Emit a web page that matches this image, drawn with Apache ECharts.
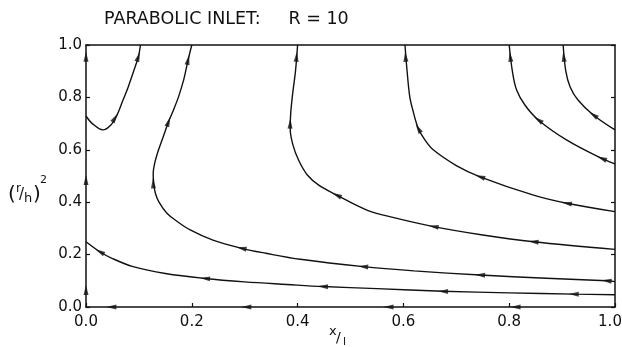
<!DOCTYPE html>
<html><head><meta charset="utf-8">
<script src="https://cdn.jsdelivr.net/npm/echarts@6/dist/echarts.min.js"></script>
<style>html,body{margin:0;padding:0;background:#fff}#c{width:622px;height:347px}</style>
</head><body><div id="c"></div>
<script>
// Tick values
const xTicks = [0.0, 0.2, 0.4, 0.6, 0.8, 1.0];
const yTicks = [0.0, 0.2, 0.4, 0.6, 0.8, 1.0];

// Streamlines, listed in flow direction [x/l, (r/h)^2]
const curve1 = [[0,0.729],[0.012,0.70],[0.032,0.676],[0.047,0.695],[0.058,0.73],[0.07,0.79],[0.08,0.841],[0.09,0.90],[0.099,0.955],[0.103,1.0]];
const curve2 = [[1.0,0.097],[0.984,0.100],[0.87,0.110],[0.745,0.122],[0.62,0.138],[0.524,0.154],[0.405,0.182],[0.34,0.205],[0.294,0.224],[0.24,0.255],[0.197,0.294],[0.17,0.33],[0.153,0.358],[0.138,0.40],[0.131,0.435],[0.128,0.472],[0.127,0.51],[0.13,0.55],[0.137,0.599],[0.146,0.65],[0.156,0.707],[0.166,0.755],[0.175,0.803],[0.185,0.87],[0.193,0.943],[0.2,1.0]];
const curve3 = [[1.0,0.220],[0.846,0.249],[0.75,0.275],[0.657,0.307],[0.58,0.342],[0.531,0.370],[0.474,0.427],[0.44,0.465],[0.418,0.505],[0.402,0.56],[0.391,0.62],[0.386,0.68],[0.387,0.74],[0.391,0.82],[0.396,0.90],[0.40,1.0]];
const curve4 = [[1.0,0.364],[0.909,0.396],[0.846,0.427],[0.745,0.497],[0.70,0.54],[0.657,0.599],[0.64,0.64],[0.628,0.682],[0.618,0.75],[0.612,0.803],[0.607,0.90],[0.603,1.0]];
const curve5 = [[1.0,0.546],[0.975,0.567],[0.909,0.637],[0.855,0.714],[0.83,0.77],[0.814,0.828],[0.806,0.90],[0.80,1.0]];
const curve6 = [[1.0,0.676],[0.959,0.733],[0.93,0.79],[0.915,0.841],[0.907,0.90],[0.902,1.0]];
const curve7 = [[1.0,0.047],[0.922,0.049],[0.80,0.054],[0.675,0.060],[0.55,0.070],[0.448,0.078],[0.38,0.086],[0.30,0.096],[0.225,0.109],[0.15,0.128],[0.089,0.154],[0.05,0.185],[0.026,0.211],[0,0.249]];
const leftWall = [[0,0],[0,1]];
const bottomWall = [[1,0],[0,0]];

// Arrowhead positions on each streamline
const arrows1 = [[0.055,0.722],[0.099,0.955]];
const arrows2 = [[0.984,0.100],[0.745,0.122],[0.524,0.154],[0.294,0.224],[0.127,0.472],[0.156,0.707],[0.193,0.943]];
const arrows3 = [[0.846,0.249],[0.657,0.307],[0.474,0.427],[0.386,0.70],[0.398,0.955]];
const arrows4 = [[0.909,0.396],[0.745,0.497],[0.628,0.682],[0.604,0.955]];
const arrows5 = [[0.975,0.567],[0.855,0.714],[0.802,0.955]];
const arrows6 = [[0.959,0.733],[0.903,0.955]];
const arrows7 = [[0.922,0.049],[0.675,0.060],[0.448,0.078],[0.225,0.109],[0.026,0.211]];
const arrowsLeft = [[0,0.065],[0,0.485],[0,0.955]];
const arrowsBottom = [[0.812,0],[0.572,0],[0.303,0],[0.048,0]];

const curves = [curve1,curve2,curve3,curve4,curve5,curve6,curve7];
const arrowSets = [
  [curve1,arrows1],[curve2,arrows2],[curve3,arrows3],[curve4,arrows4],
  [curve5,arrows5],[curve6,arrows6],[curve7,arrows7],
  [leftWall,arrowsLeft],[bottomWall,arrowsBottom]
];

const chart = echarts.init(document.getElementById('c'), null, {renderer:'canvas'});
const FONT = 'DejaVu Sans';
const lineSeries = curves.map(c => ({
  type:'line', data:c, smooth:0.35, symbol:'none', clip:true,
  lineStyle:{color:'#111', width:1.4}, z:3, silent:true
}));
const xMax = xTicks[xTicks.length-1];

const base = {
  animation:false,
  backgroundColor:'#fff',
  title:{text:'PARABOLIC INLET:     R = 10', left:104, top:10, padding:0,
    textStyle:{fontFamily:FONT, fontSize:17.5, fontWeight:'normal', color:'#111'}},
  grid:{left:86, right:7, top:45, bottom:40, show:false, containLabel:false, outerBoundsMode:'none'},
  xAxis:[
    {type:'value', min:0, max:1, interval:0.2, position:'bottom',
      axisLine:{show:true, lineStyle:{color:'#111', width:1.5}},
      axisTick:{show:true, inside:true, length:4, lineStyle:{color:'#111', width:1.2}},
      axisLabel:{fontFamily:FONT, fontSize:15, color:'#111', margin:8,
        showMinLabel:true, showMaxLabel:true, hideOverlap:false,
        formatter:v=> v===xMax ? '{m|'+v.toFixed(1)+'}' : v.toFixed(1),
        rich:{m:{fontFamily:FONT, fontSize:15, color:'#111', padding:[0,10,0,0]}}},
      splitLine:{show:false}},
    {type:'value', min:0, max:1, interval:0.2, position:'top',
      axisLine:{show:true, onZero:false, lineStyle:{color:'#111', width:1.5}},
      axisTick:{show:false}, axisLabel:{show:false}, splitLine:{show:false}}
  ],
  yAxis:[
    {type:'value', min:0, max:1, interval:0.2, position:'left',
      axisLine:{show:true, lineStyle:{color:'#111', width:1.5}},
      axisTick:{show:true, inside:true, length:4, lineStyle:{color:'#111', width:1.2}},
      axisLabel:{fontFamily:FONT, fontSize:15, color:'#111', margin:4,
        showMinLabel:true, showMaxLabel:true, hideOverlap:false,
        formatter:v=>v.toFixed(1)},
      splitLine:{show:false}},
    {type:'value', min:0, max:1, interval:0.2, position:'right',
      axisLine:{show:true, onZero:false, lineStyle:{color:'#111', width:1.5}},
      axisTick:{show:true, inside:true, length:4, lineStyle:{color:'#111', width:1.2}},
      axisLabel:{show:false}, splitLine:{show:false}}
  ],
  graphic:[
    {type:'text', x:8, y:195, style:{text:'(', fontFamily:FONT, fontSize:20, fill:'#111', verticalAlign:'middle'}},
    {type:'text', x:16, y:189, style:{text:'r', fontFamily:FONT, fontSize:12, fill:'#111', verticalAlign:'middle'}},
    {type:'text', x:19, y:195, style:{text:'/', fontFamily:FONT, fontSize:15, fill:'#111', verticalAlign:'middle'}},
    {type:'text', x:24, y:199, style:{text:'h', fontFamily:FONT, fontSize:13, fill:'#111', verticalAlign:'middle'}},
    {type:'text', x:33, y:195, style:{text:')', fontFamily:FONT, fontSize:20, fill:'#111', verticalAlign:'middle'}},
    {type:'text', x:40, y:180, style:{text:'2', fontFamily:FONT, fontSize:11, fill:'#111', verticalAlign:'middle'}},
    {type:'text', x:329, y:332, style:{text:'x', fontFamily:FONT, fontSize:13, fill:'#111', verticalAlign:'middle'}},
    {type:'text', x:336, y:338, style:{text:'/', fontFamily:FONT, fontSize:14, fill:'#111', verticalAlign:'middle'}},
    {type:'text', x:343, y:342, style:{text:'l', fontFamily:FONT, fontSize:11, fill:'#111', verticalAlign:'middle'}}
  ],
  series: lineSeries
};
chart.setOption(base);

function px(p){ return chart.convertToPixel({gridIndex:0}, p); }
function rotationFor(curve, p){
  const pts = curve.map(px);
  const q = px(p);
  let best = Infinity, dir = [1,0];
  for (let i=0;i<pts.length-1;i++){
    const a=pts[i], b=pts[i+1];
    const vx=b[0]-a[0], vy=b[1]-a[1];
    const L=vx*vx+vy*vy || 1;
    let t=((q[0]-a[0])*vx+(q[1]-a[1])*vy)/L; t=Math.max(0,Math.min(1,t));
    const cx=a[0]+t*vx-q[0], cy=a[1]+t*vy-q[1];
    const d=cx*cx+cy*cy;
    if (d<best){best=d; dir=[vx,vy];}
  }
  return Math.atan2(-dir[0], -dir[1])*180/Math.PI;
}
const arrowData = [];
arrowSets.forEach(([c, arr]) => arr.forEach(p => {
  arrowData.push({value:p, symbolRotate:rotationFor(c,p)});
}));
chart.setOption({series: lineSeries.concat([{
  type:'scatter', data:arrowData, symbol:'triangle', symbolSize:[5,10],
  itemStyle:{color:'#111'}, z:5, silent:true, clip:false
}])});
</script></body></html>
